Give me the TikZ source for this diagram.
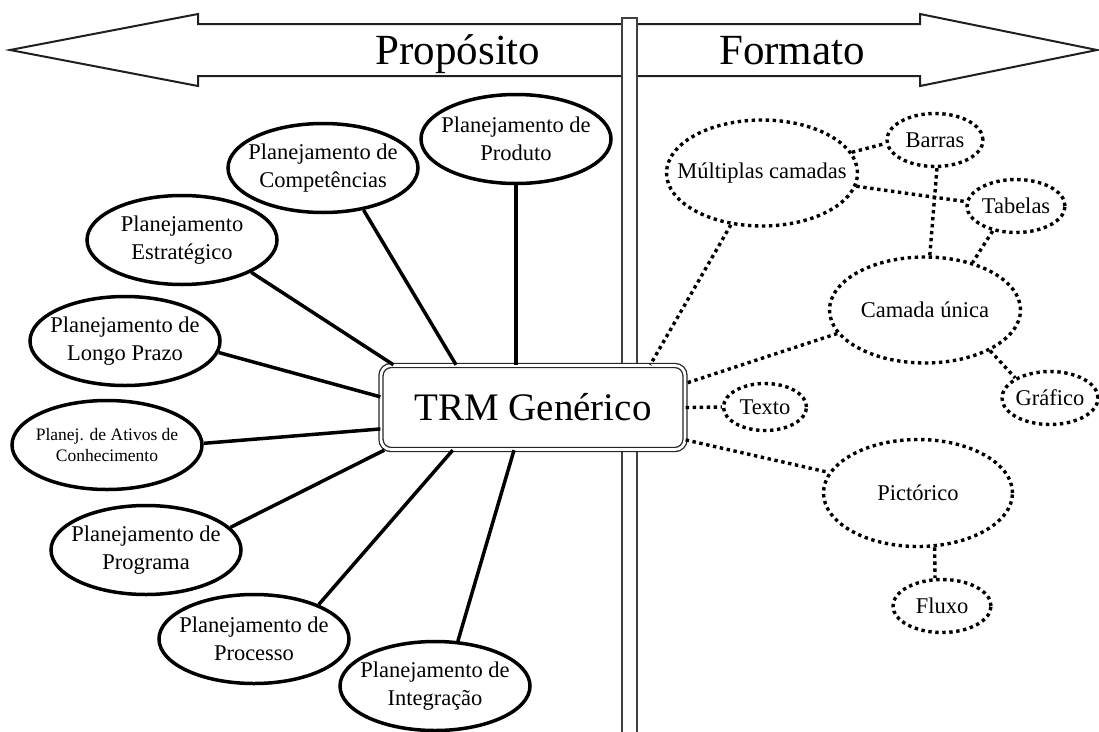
\documentclass[tikz,border=0pt]{standalone}
\usepackage{fontspec}
\setmainfont{Liberation Serif}
\usetikzlibrary{shapes.geometric,calc}
\newcommand\fsz[2]{\fontsize{#1}{#2}\selectfont}

\begin{document}
\begin{tikzpicture}[x=1pt,y=-1pt,
  purpose/.style={ellipse,draw,line width=3.5pt,fill=white,inner xsep=-30pt,inner ysep=0pt,
    align=center,minimum width=190pt,minimum height=89pt,font=\fsz{22.5}{27.5}},
  fmt/.style={ellipse,draw,line width=3.4pt,dash pattern=on 3.4pt off 3.6pt,fill=white,
    inner xsep=-20pt,inner ysep=0pt,align=center,font=\fsz{22.5}{27.5}},
  big/.style={fmt,minimum width=191pt,minimum height=106pt},
  small/.style={fmt,minimum width=96pt,minimum height=53pt},
  link/.style={line width=3.5pt},
  dlink/.style={line width=3.4pt,dash pattern=on 3.4pt off 3.6pt},
  arrowline/.style={draw=black!88,line width=2pt,fill=white,line join=miter},
  post/.style={draw=black!75,line width=1.6pt,fill=white},
  trmbox/.style={draw=black!85,double=white,double distance=2.8pt,line width=1.3pt,
    rounded corners=10pt,fill=white,minimum width=304pt,minimum height=84pt,
    inner sep=0pt,font=\fsz{39}{45}},
  title/.style={anchor=base,font=\fsz{43}{50}},
]
\useasboundingbox (0,0) rectangle (1099,731);

% double-headed signpost arrow
\draw[arrowline] (10,50) -- (198,14) -- (198,24) -- (920,24) -- (920,14) -- (1097,50)
  -- (920,86) -- (920,76) -- (198,76) -- (198,86) -- cycle;
% vertical post
\draw[post] (622,18) rectangle (637,740);

\node[title] (purp) at (458,64) {Propósito};
\node[title] (form) at (792,64) {Formato};

% central node
\node[trmbox] (trm) at (533,407.5) {TRM Genérico};

% purpose side
\node[purpose] (prod)  at (516,139) {Planejamento de\\Produto};
\node[purpose] (comp)  at (323,168) {Planejamento de\\Competências};
\node[purpose] (estr)  at (182,240) {Planejamento\\Estratégico};
\node[purpose] (longo) at (125,341) {Planejamento de\\Longo Prazo};
\node[purpose,font=\fsz{17.5}{21.5}] (ativos) at (107,445) {Planej. de Ativos de\\Conhecimento};
\node[purpose] (prog)  at (146,550) {Planejamento de\\Programa};
\node[purpose] (proc)  at (254,639) {Planejamento de\\Processo};
\node[purpose] (integ) at (435,686) {Planejamento de\\Integração};

\draw[link] (prod.south) -- (trm.north -| prod.south);
\draw[link] (comp.-46) -- (trm.151);
\draw[link] (estr.-25) -- (trm.163);
\draw[link] (longo.-7) -- (trm.176);
\draw[link] (ativos.1) -- (trm.188);
\draw[link] (prog.15) -- (trm.196);
\draw[link] (proc.28) -- (trm.208);
\draw[link] (integ.63) -- (trm.246);

% format side
\node[big]   (mult)    at (762,173)  {Múltiplas camadas};
\node[small] (barras)  at (935,140)  {Barras};
\node[small,minimum width=98pt] (tabelas) at (1016,206) {Tabelas};
\node[big]   (camada)  at (925,310)  {Camada única};
\node[small] (grafico) at (1050,398) {Gráfico};
\node[fmt,minimum width=83pt,minimum height=47pt] (texto) at (765,407) {Texto};
\node[big,minimum width=189pt,minimum height=107pt] (pict) at (918,493) {Pictórico};
\node[small,minimum width=98pt] (fluxo) at (942,606) {Fluxo};

\draw[dlink] (mult.239) -- (trm.20);
\draw[dlink] (mult.13) -- (barras.184);
\draw[dlink] (mult.-8) -- (tabelas.175);
\draw[dlink] (barras.-86) -- (camada.85);
\draw[dlink] (tabelas.227) -- (camada.45);
\draw[dlink] (camada.195) -- (trm.9.5);
\draw[dlink] (camada.-32) -- (grafico.150);
\draw[dlink] (trm.0) -- (texto.180);
\draw[dlink] (trm.-12) -- (pict.167);
\draw[dlink] (pict.-73) -- (fluxo.104);
\end{tikzpicture}
\end{document}
